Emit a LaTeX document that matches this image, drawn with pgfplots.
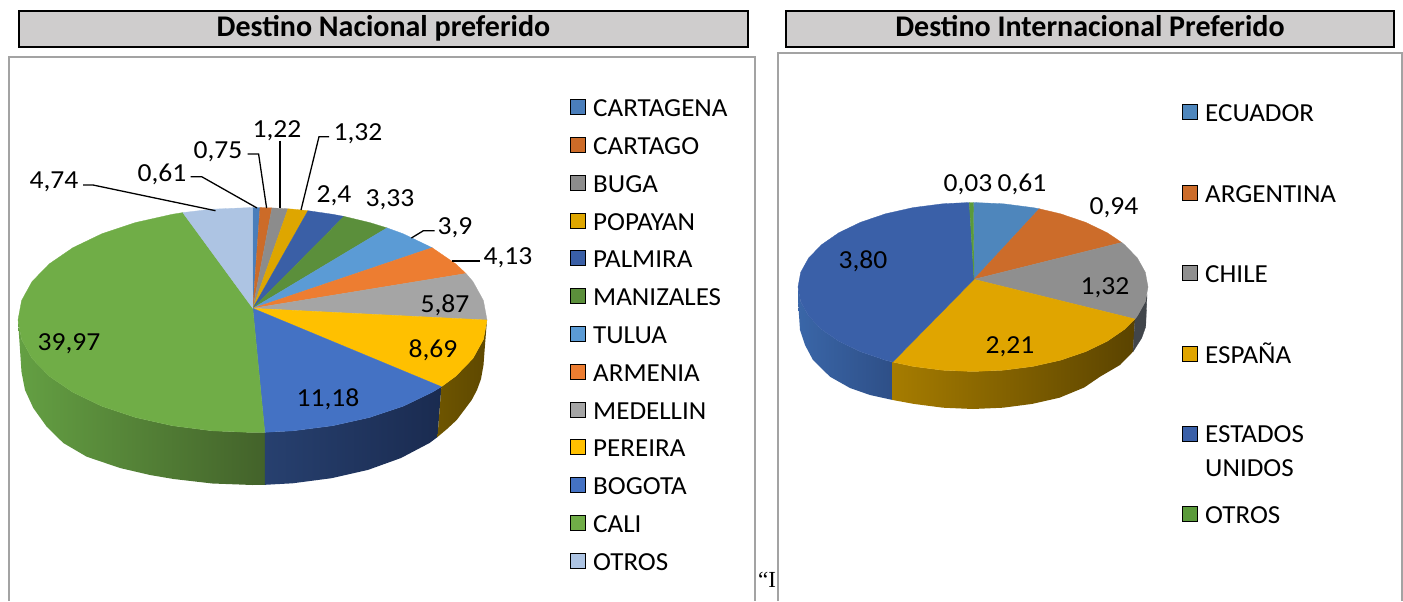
\documentclass[border=0pt]{standalone}
\usepackage{pgfplots}
\pgfplotsset{compat=1.18}
\usepackage{fontspec}
\setmainfont{Carlito}
\newfontfamily\serifz{Liberation Serif}
\definecolor{frameg}{HTML}{A3A3A3}
\definecolor{titleg}{HTML}{CFCDCD}
\newcommand{\hx}[1]{\definecolor{#1}{HTML}{#1}}
\hx{64A043}\hx{54803A}\hx{43622A}\hx{27406F}\hx{1F3360}\hx{1A2B50}\hx{6E5500}\hx{665000}\hx{5E4800}
\hx{4A7EBB}\hx{CC6B28}\hx{8C8C8C}\hx{DEA600}\hx{3A5FA6}\hx{5B8F3B}\hx{5B9BD5}\hx{ED7D31}\hx{A5A5A5}\hx{FFC000}\hx{4472C4}\hx{70AD47}\hx{ADC4E3}
\hx{3A66A8}\hx{335C9A}\hx{2E4F87}\hx{A67C00}\hx{6F5300}\hx{5A4300}\hx{41454A}\hx{4E86BC}\hx{CC6C2A}\hx{8F8F8F}\hx{E0A500}\hx{3A60A8}\hx{5A9A3A}
\newcommand{\pw}[2]{\addplot[fill=#1,draw=#1,line width=.3pt] coordinates {#2} --cycle;}
\newcommand{\sw}[2]{\addplot[only marks,mark=square*,mark size=7.5pt,mark options={fill=#1,draw=none}] coordinates {#2};}
\newcommand{\sd}[4]{\addplot[draw=none,left color=#1,middle color=#2,right color=#3] coordinates {#4} --cycle;}
\newcommand{\ld}[1]{\addplot[black,line width=1.3pt] coordinates {#1};}
\tikzset{val/.style={font=\fontsize{26}{28}\selectfont,inner sep=0pt,text=black,xscale=1.06,yshift=-2.5pt},
 leg/.style={font=\fontsize{26}{28}\selectfont,inner sep=0pt,anchor=west,text=black,xscale=1.04},
 ttl/.style={font=\fontsize{30}{32}\selectfont\bfseries,inner sep=0pt,text=black,anchor=base}}
\begin{document}
\begin{tikzpicture}
\begin{axis}[scale only axis,width=1403pt,height=601pt,xmin=0,xmax=1403,ymin=0,ymax=601,y dir=reverse,axis lines=none,clip=false]
\path (rel axis cs:0,0) rectangle (rel axis cs:1,1);
% frames and title bars
\draw[frameg,line width=2pt] (axis cs:9,601) -- (axis cs:9,57) -- (axis cs:754.5,57) -- (axis cs:754.5,601);
\node[anchor=west,inner sep=0pt,font=\fontsize{23}{25}\selectfont\serifz] at (axis cs:758,580) {“I};
\fill[white] (axis cs:778,601) rectangle (axis cs:1402,53);
\draw[frameg,line width=2pt] (axis cs:778,601) -- (axis cs:778,53) -- (axis cs:1402,53) -- (axis cs:1402,601);
\draw[black,fill=titleg,line width=2.2pt] (axis cs:19,11) rectangle (axis cs:748,47);
\draw[black,fill=titleg,line width=2.2pt] (axis cs:786,11) rectangle (axis cs:1394,47);
\node[ttl] at (axis cs:383.5,37) {Destino Nacional preferido};
\node[ttl] at (axis cs:1090,37) {Destino Internacional Preferido};
% ----- left pie: side walls
\sd{64A043}{54803A}{43622A}{(18,320)(21.6,339.5)(32.1,358.5)(49.4,376.3)(72.9,392.3)(101.8,406.2)(135.3,417.4)(172.3,425.7)(211.8,430.8)(252.5,432.5)(264.8,432.3)(265,484.8)(252.5,485)(212.4,483.5)(173.5,479)(150,475)(120,468)(86.7,456.7)(63.3,443)(46.7,426.7)(33.3,408)(25,390)(21.5,372)}
\sd{27406F}{1F3360}{1A2B50}{(264.8,432.3)(293.2,430.8)(332.7,425.7)(369.8,417.4)(403.2,406.2)(432.1,392.3)(441.4,386.7)(437.5,437)(429.5,443)(401,458)(368,469.9)(331.5,478.2)(292.6,483.3)(265,484.8)}
\sd{6E5500}{665000}{5E4800}{(441.4,386.7)(455.6,376.3)(472.9,358.5)(483.4,339.5)(487,320)(485,345)(483.5,365)(481,379)(477,390)(471.7,400)(465,409)(456.7,420)(447,429)(437.5,437)}
% ----- left pie: top wedges
\pw{4A7EBB}{(252.8,308.3)(252.5,207.5)(260,207.6)}
\pw{CC6B28}{(252.8,308.3)(260,207.6)(272,207.9)}
\pw{8C8C8C}{(252.8,308.3)(272,207.9)(288,208.8)}
\pw{DEA600}{(252.8,308.3)(288,208.8)(293.2,209.2)(308,210.7)}
\pw{3A5FA6}{(252.8,308.3)(308,210.7)(332.7,214.3)(344,216.4)}
\pw{5B8F3B}{(252.8,308.3)(344,216.4)(369.8,222.6)(387,227.9)}
\pw{5B9BD5}{(252.8,308.3)(387,227.9)(403.2,233.8)(432.1,247.7)}
\pw{ED7D31}{(252.8,308.3)(432.1,247.7)(455.6,263.8)(466,273.5)}
\pw{A5A5A5}{(252.8,308.3)(466,273.5)(472.9,281.5)(483.4,300.5)(487,320)}
\pw{FFC000}{(252.8,308.3)(487,320)(483.4,339.5)(472.9,358.5)(455.6,376.3)(441.4,386.7)}
\pw{4472C4}{(252.8,308.3)(441.4,386.7)(432.1,392.3)(403.2,406.2)(369.8,417.4)(332.7,425.7)(293.2,430.8)(264.8,432.3)}
\pw{70AD47}{(252.8,308.3)(264.8,432.3)(252.5,432.5)(211.8,430.8)(172.3,425.7)(135.3,417.4)(101.8,406.2)(72.9,392.3)(49.4,376.3)(32.1,358.5)(21.6,339.5)(18,320)(21.6,300.5)(32.1,281.5)(49.4,263.8)(72.9,247.7)(101.8,233.8)(135.3,222.6)(172.3,214.3)(182.8,212.6)}
\pw{ADC4E3}{(252.8,308.3)(182.8,212.6)(211.8,209.2)(252.5,207.5)}
% leader lines
\ld{(83,185)(93,185)(215.5,210.7)}
\ld{(190.7,176.7)(201.7,176.7)(257,208)}
\ld{(247.6,154)(258.6,154)(266.6,208)}
\ld{(280,140.7)(280,208)}
\ld{(329,136.7)(319,136.7)(301,210)}
\ld{(434.5,230.7)(423.4,230.7)(411.4,238)}
\ld{(480,261)(451.7,261)}
% labels
\node[val] at (axis cs:54,179) {4,74};
\node[val] at (axis cs:162,172) {0,61};
\node[val] at (axis cs:218,149) {0,75};
\node[val] at (axis cs:277,128) {1,22};
\node[val] at (axis cs:358,131) {1,32};
\node[val] at (axis cs:334,193) {2,4};
\node[val] at (axis cs:390,197) {3,33};
\node[val] at (axis cs:455,225) {3,9};
\node[val] at (axis cs:508,255) {4,13};
\node[val] at (axis cs:445,303) {5,87};
\node[val] at (axis cs:433,348) {8,69};
\node[val] at (axis cs:328,397) {11,18};
\node[val] at (axis cs:69,341) {39,97};
% left legend
\sw{4A7EBB}{(578,107)}\sw{CC6B28}{(578,145)}\sw{8C8C8C}{(578,183)}\sw{DEA600}{(578,221)}\sw{3A5FA6}{(578,258)}\sw{5B8F3B}{(578,296)}\sw{5B9BD5}{(578,334)}\sw{ED7D31}{(578,372)}\sw{A5A5A5}{(578,410)}\sw{FFC000}{(578,447)}\sw{4472C4}{(578,485)}\sw{70AD47}{(578,523)}\sw{ADC4E3}{(578,561)}
\node[leg] at (axis cs:593,108) {CARTAGENA};
\node[leg] at (axis cs:593,146) {CARTAGO};
\node[leg] at (axis cs:593,184) {BUGA};
\node[leg] at (axis cs:593,222) {POPAYAN};
\node[leg] at (axis cs:593,259) {PALMIRA};
\node[leg] at (axis cs:593,297) {MANIZALES};
\node[leg] at (axis cs:593,335) {TULUA};
\node[leg] at (axis cs:593,373) {ARMENIA};
\node[leg] at (axis cs:593,411) {MEDELLIN};
\node[leg] at (axis cs:593,448) {PEREIRA};
\node[leg] at (axis cs:593,486) {BOGOTA};
\node[leg] at (axis cs:593,524) {CALI};
\node[leg] at (axis cs:593,562) {OTROS};
% ----- right pie: side walls
\sd{3A66A8}{335C9A}{2E4F87}{(798,287)(800.7,301.7)(808.6,315.9)(821.4,329.3)(838.9,341.3)(860.5,351.7)(885.5,360.2)(892.7,362)(892.7,400)(870,395)(850,388)(830,376.7)(813,360)(805,345)(800,330)(798,300)}
\sd{A67C00}{6F5300}{5A4300}{(892.7,362)(913.1,366.4)(942.6,370.2)(973,371.5)(1003.4,370.2)(1032.9,366.4)(1060.5,360.2)(1085.5,351.7)(1107.1,341.3)(1124.6,329.3)(1135,319)(1133,351.7)(1120,365)(1100,376.7)(1084.2,387.5)(1059.5,397.7)(1032.2,403.9)(1003,407.7)(973,409)(943,407.7)(913.8,403.9)(892.7,400)}
\pw{41454A}{(1135,319)(1137.4,315.9)(1145.3,301.7)(1147,295)(1145.7,326.7)(1141.7,338)(1133,351.7)}
% ----- right pie: top wedges
\pw{4E86BC}{(974,279.3)(973.3,202.5)(1003.4,203.8)(1032.9,207.6)(1039.3,208.8)}
\pw{CC6C2A}{(974,279.3)(1039.3,208.8)(1060.5,213.8)(1085.5,222.3)(1107.1,232.7)(1121.7,242.5)}
\pw{8F8F8F}{(974,279.3)(1121.7,242.5)(1124.6,244.8)(1137.4,258.1)(1145.3,272.3)(1148,287)(1145.3,301.7)(1137.4,315.9)(1135,319)}
\pw{E0A500}{(974,279.3)(1135,319)(1124.6,329.3)(1107.1,341.3)(1085.5,351.7)(1060.5,360.2)(1032.9,366.4)(1003.4,370.2)(973,371.5)(942.6,370.2)(913.1,366.4)(892.7,362)}
\pw{3A60A8}{(974,279.3)(892.7,362)(885.5,360.2)(860.5,351.7)(838.9,341.3)(821.4,329.3)(808.6,315.9)(800.7,301.7)(798,287)(800.7,272.3)(808.6,258.1)(821.4,244.8)(838.9,232.7)(860.5,222.3)(885.5,213.8)(913.1,207.6)(942.6,203.8)(969.3,202.5)}
\pw{5A9A3A}{(974,279.3)(969.3,202.5)(973.3,202.5)}
% labels
\node[val] at (axis cs:968,182) {0,03};
\node[val] at (axis cs:1022,182) {0,61};
\node[val] at (axis cs:1114,205) {0,94};
\node[val] at (axis cs:863,259) {3,80};
\node[val] at (axis cs:1105,285) {1,32};
\node[val] at (axis cs:1010,344) {2,21};
% right legend
\sw{4E86BC}{(1190,112)}\sw{CC6C2A}{(1190,193)}\sw{8F8F8F}{(1190,273)}\sw{E0A500}{(1190,354)}\sw{3A60A8}{(1190,434)}\sw{5A9A3A}{(1190,514)}
\node[leg] at (axis cs:1205,113) {ECUADOR};
\node[leg] at (axis cs:1205,194) {ARGENTINA};
\node[leg] at (axis cs:1205,274) {CHILE};
\node[leg] at (axis cs:1205,353) {ESPAÑA};
\node[leg] at (axis cs:1205,434) {ESTADOS};
\node[leg] at (axis cs:1205,468) {UNIDOS};
\node[leg] at (axis cs:1205,515) {OTROS};
\end{axis}
\end{tikzpicture}
\end{document}
